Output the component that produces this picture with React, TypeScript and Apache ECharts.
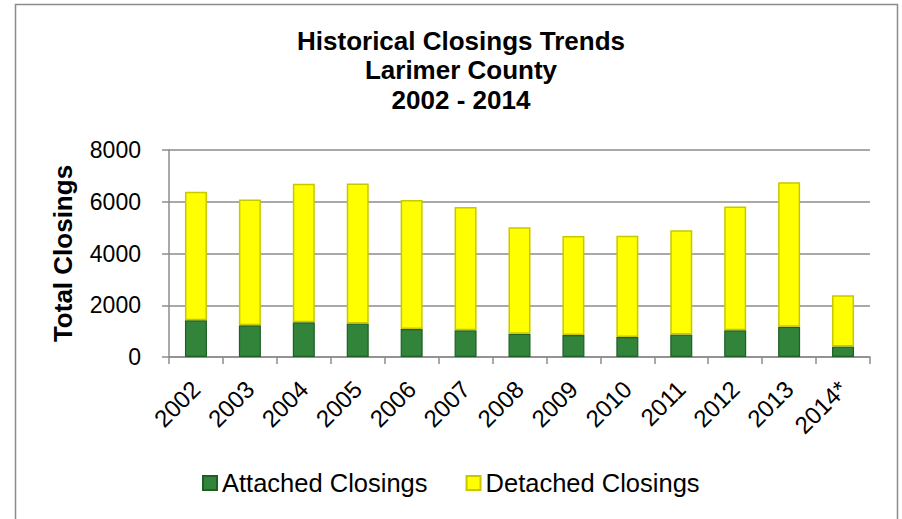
import React, { useEffect, useRef } from "react";
import * as echarts from "echarts";

const years = ["2002", "2003", "2004", "2005", "2006", "2007", "2008", "2009", "2010", "2011", "2012", "2013", "2014*"];
const attached = [1420, 1225, 1340, 1290, 1080, 1030, 900, 850, 775, 865, 1030, 1170, 410];
const detached = [4970, 4865, 5360, 5420, 4985, 4765, 4110, 3825, 3915, 4030, 4790, 5580, 1975];
const yTicks = [0, 2000, 4000, 6000, 8000];
const titleLines = ["Historical Closings Trends", "Larimer County", "2002 - 2014"];

const FONT = "'Liberation Sans', Arial, sans-serif";

export default function App() {
  const ref = useRef<HTMLDivElement>(null);
  useEffect(() => {
    if (!ref.current) return;
    const chart = echarts.init(ref.current, null, { renderer: "svg" });
    chart.setOption({
      animation: false,
      backgroundColor: "#ffffff",
      textStyle: { fontFamily: FONT },
      title: {
        text: titleLines.join("\n"),
        left: 456,
        textAlign: "center",
        top: 21,
        textStyle: {
          fontFamily: FONT,
          fontSize: 26,
          fontWeight: "bold",
          color: "#000",
          lineHeight: 29.5,
        },
      },
      graphic: [
        {
          type: "rect",
          shape: { x: 15.5, y: 4.5, width: 882, height: 600 },
          style: { fill: "none", stroke: "#8c8c8c", lineWidth: 1.5 },
          silent: true,
        },
      ],
      legend: {
        left: 197,
        top: 465,
        itemWidth: 14,
        itemHeight: 14,
        itemGap: 38,
        icon: "rect",
        textStyle: { fontFamily: FONT, fontSize: 25.5, color: "#000", padding: [0, 0, 0, 0] },
        data: ["Attached Closings", "Detached Closings"],
      },
      grid: { left: 169, right: 32, top: 150, bottom: 162, containLabel: false },
      xAxis: {
        type: "category",
        data: years,
        axisLine: { lineStyle: { color: "#8c8c8c", width: 1.5 } },
        axisTick: { show: true, length: 7, lineStyle: { color: "#8c8c8c", width: 1.5 } },
        axisLabel: {
          rotate: 45,
          interval: 0,
          fontFamily: FONT,
          fontSize: 24,
          color: "#000",
          margin: 28,
        },
      },
      yAxis: {
        type: "value",
        min: yTicks[0],
        max: yTicks[yTicks.length - 1],
        interval: 2000,
        name: "Total Closings",
        nameLocation: "middle",
        nameRotate: 90,
        nameGap: 93,
        nameTextStyle: { fontFamily: FONT, fontSize: 26, fontWeight: "bold", color: "#000" },
        axisLine: { show: true, lineStyle: { color: "#8c8c8c", width: 1.5 } },
        axisTick: { show: true, length: 7, lineStyle: { color: "#8c8c8c", width: 1.5 } },
        axisLabel: {
          fontFamily: FONT,
          fontSize: 23,
          color: "#000",
          margin: 28,
          formatter: (v: number) => String(v),
        },
        splitLine: { lineStyle: { color: "#8c8c8c", width: 1.5 } },
      },
      series: [
        {
          name: "Attached Closings",
          type: "bar",
          stack: "total",
          barWidth: 22,
          data: attached,
          itemStyle: { color: "#31843a", borderColor: "#1e5e27", borderWidth: 1.2 },
        },
        {
          name: "Detached Closings",
          type: "bar",
          stack: "total",
          barWidth: 22,
          data: detached,
          itemStyle: { color: "#ffff00", borderColor: "#c8c800", borderWidth: 1.5 },
        },
      ],
    });
    return () => chart.dispose();
  }, []);
  return (
    <div
      ref={ref}
      style={{ position: "absolute", left: 0, top: 0, width: 902, height: 519 }}
    />
  );
}
